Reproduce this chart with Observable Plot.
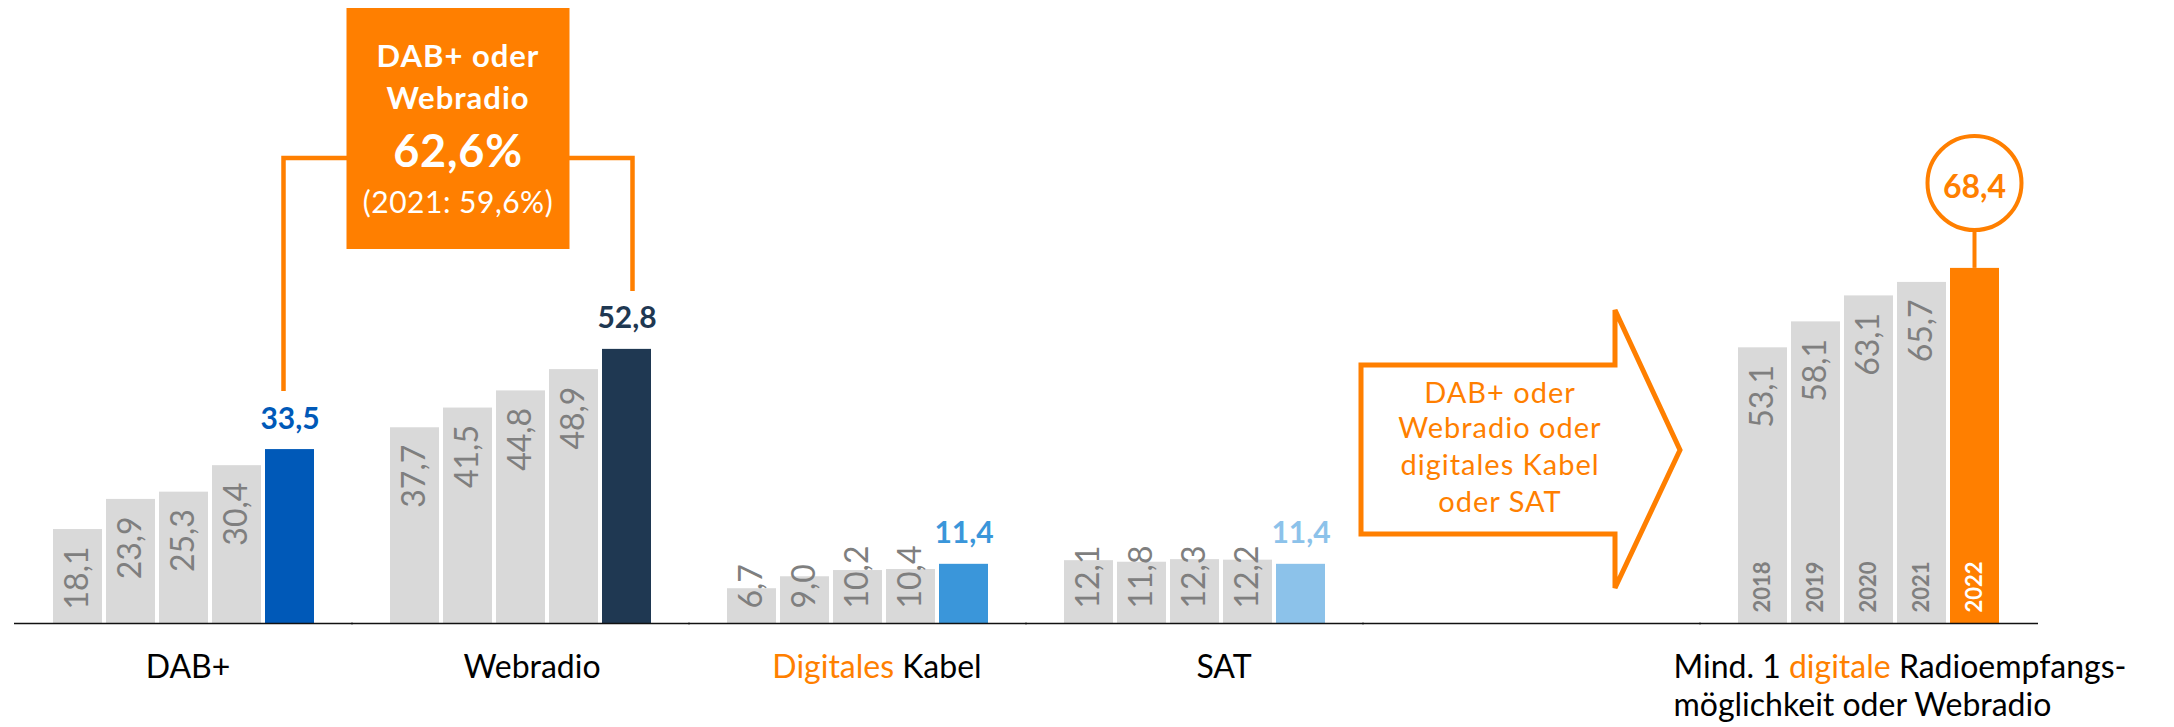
<!DOCTYPE html>
<html><head><meta charset="utf-8">
<script src="https://cdn.jsdelivr.net/npm/d3@7"></script>
<script src="https://cdn.jsdelivr.net/npm/@observablehq/plot@0.6"></script>
<style>html,body{margin:0;padding:0;background:#fff;} #chart{width:2174px;height:727px;}</style>
</head><body><div id="chart"></div>
<script>
// ---------- data ----------
const years = ["2018", "2019", "2020", "2021", "2022"];
const groupKeys = ["DAB+", "Webradio", "Digitales Kabel", "SAT", "arrow", "gesamt"];
const groupLabels = ["DAB+", "Webradio", "Digitales Kabel", "SAT", "", "Mind. 1 digitale Radioempfangs-\nmöglichkeit oder Webradio"];
const dabValues = [18.1, 23.9, 25.3, 30.4, 33.5];
const webradioValues = [37.7, 41.5, 44.8, 48.9, 52.8];
const kabelValues = [6.7, 9.0, 10.2, 10.4, 11.4];
const satValues = [12.1, 11.8, 12.3, 12.2, 11.4];
const totalValues = [53.1, 58.1, 63.1, 65.7, 68.4];
const highlightColors = ["#0059B8", "#1F3852", "#3A96DA", "#8CC2EA", null, "#FF7F00"];
const boxLines = ["DAB+ oder", "Webradio", "62,6%", "(2021: 59,6%)"];
const arrowLines = ["DAB+ oder", "Webradio oder", "digitales Kabel", "oder SAT"];

const grey = "#D9D9D9", greyText = "#7F7F7F", orange = "#FF7F00";
const seriesByGroup = [dabValues, webradioValues, kabelValues, satValues, null, totalValues];
const fmt = v => v.toFixed(1).replace(".", ",");

const rows = [];
groupKeys.forEach((g, gi) => {
  const vals = seriesByGroup[gi];
  if (!vals) return;
  years.forEach((yr, i) => rows.push({
    group: g, year: yr, value: vals[i], latest: i === years.length - 1,
    color: i === years.length - 1 ? highlightColors[gi] : grey
  }));
});
const baseRows = groupKeys.map(g => ({g, y: 0}));
const labelRows = groupKeys.map((k, i) => ({k, label: groupLabels[i]}));

const FONT = "Lato, 'Open Sans', sans-serif";
const labelShift = [4, 11, 19, 29]; // layout: small rightward drift of the category labels

const plot = Plot.plot({
  width: 2174, height: 727,
  marginLeft: 11, marginRight: 132, marginTop: 0, marginBottom: 104,
  style: {fontFamily: FONT, background: "white", overflow: "visible"},
  fx: {domain: groupKeys, paddingInner: 0.213, paddingOuter: 0.111, axis: null},
  x: {domain: years, paddingInner: 0.08, paddingOuter: 0, axis: null},
  y: {domain: [0, 120], axis: null},
  color: {type: "identity"},
  marks: [
    Plot.barY(rows, {fx: "group", x: "year", y: "value", fill: "color"}),
    Plot.ruleY(baseRows, {fx: "g", y: "y", stroke: "#111", strokeWidth: 1.6, insetLeft: -37, insetRight: -37}),
    // grey values, anchored under the bar top
    Plot.text(rows.filter(r => !r.latest && r.value >= 15), {
      fx: "group", x: "year", y: "value", text: r => fmt(r.value),
      rotate: -90, textAnchor: "end", dy: 17, fill: greyText, fontSize: 32
    }),
    // grey values, anchored at the bar bottom (short bars)
    Plot.text(rows.filter(r => !r.latest && r.value < 15), {
      fx: "group", x: "year", y: () => 0, text: r => fmt(r.value),
      rotate: -90, textAnchor: "start", dy: -15, fill: greyText, fontSize: 32
    }),
    // years inside the total bars
    Plot.text(rows.filter(r => r.group === "gesamt"), {
      fx: "group", x: "year", y: () => 0, text: "year",
      rotate: -90, textAnchor: "start", dy: -11, fontSize: 22, fontWeight: "bold",
      fill: r => r.latest ? "white" : greyText
    }),
    // highlighted latest values
    Plot.text(rows.filter(r => r.latest && r.group !== "gesamt"), {
      fx: "group", x: "year", y: "value", text: r => fmt(r.value),
      lineAnchor: "bottom", dy: -21, fill: "color", fontSize: 30, fontWeight: "bold"
    }),
    // group labels
    ...labelRows.slice(0, 4).map((row, i) => Plot.text([row], {
      fx: "k", text: "label", frameAnchor: "bottom", lineAnchor: "bottom",
      dx: labelShift[i], dy: 54, fontSize: 32, fill: "#000", ariaLabel: "group-label"
    })),
    Plot.text(labelRows.slice(5), {
      fx: "k", text: "label", frameAnchor: "bottom-left", textAnchor: "start", lineAnchor: "bottom",
      dx: -63, dy: 92, fontSize: 32, lineHeight: 38 / 32, fill: "#000", ariaLabel: "group-label"
    })
  ]
});
document.getElementById("chart").appendChild(plot);

const svg = d3.select(plot);
svg.selectAll('g[aria-label="group-label"] text').attr("letter-spacing", 2.2);

// ---------- colour the highlighted words ----------
function colorWord(node, word) {
  const txt = node.textContent;
  const i = txt.indexOf(word);
  if (i < 0) return;
  const sel = d3.select(node);
  sel.text(null);
  sel.append("tspan").text(txt.slice(0, i));
  sel.append("tspan").attr("fill", orange).text(word);
  sel.append("tspan").text(txt.slice(i + word.length));
}
svg.selectAll("text").each(function () {
  if (this.children.length === 0 && this.textContent === "Digitales Kabel") colorWord(this, "Digitales");
});
svg.selectAll("tspan").each(function () {
  if (this.textContent.startsWith("Mind. 1 digitale")) colorWord(this, "digitale");
});

// ---------- annotations positioned through the plot's scales ----------
const fxS = plot.scale("fx"), xS = plot.scale("x"), yS = plot.scale("y");
const bw = xS.bandwidth;
const left = (g, yr) => fxS.apply(g) + xS.apply(yr) - xS.range[0];
const center = (g, yr) => left(g, yr) + bw / 2;
const Y = v => yS.apply(v);
const base = Y(0);
const ann = svg.append("g").attr("font-family", FONT);

// bracket + box
const L = center("DAB+", "2022") - 6, R = center("Webradio", "2022") + 6;
const bracketY = 158;
ann.append("path")
  .attr("d", `M${L},${Y(dabValues[4]) - 58}V${bracketY}H${R}V${Y(webradioValues[4]) - 58}`)
  .attr("fill", "none").attr("stroke", orange).attr("stroke-width", 4.5);
const boxW = 223, boxCx = (L + R) / 2;
ann.append("rect").attr("x", boxCx - boxW / 2).attr("y", 8).attr("width", boxW).attr("height", 241).attr("fill", orange);
const boxSpec = [[67, 31, 700, 1], [109, 31, 700, 1], [167, 45, 700, 0.8], [213, 30, 400, 0.5]];
boxLines.forEach((t, i) => {
  ann.append("text").attr("x", boxCx).attr("y", boxSpec[i][0]).attr("text-anchor", "middle")
    .attr("font-size", boxSpec[i][1]).attr("font-weight", boxSpec[i][2])
    .attr("letter-spacing", boxSpec[i][3]).attr("fill", "white").text(t);
});

// arrow in the empty slot
const a0 = fxS.apply("arrow"), a1 = a0 + fxS.bandwidth;
const pts = [[a0 - 38, base - 258], [a1 - 49, base - 258], [a1 - 49, base - 313], [a1 + 16, base - 173],
             [a1 - 49, base - 35], [a1 - 49, base - 89], [a0 - 38, base - 89]];
ann.append("path").attr("d", "M" + pts.map(p => p.join(",")).join("L") + "Z")
  .attr("fill", "white").attr("stroke", orange).attr("stroke-width", 5).attr("stroke-linejoin", "miter");
const arrowBase = [403, 438, 475, 512];
arrowLines.forEach((t, i) => {
  ann.append("text").attr("x", a0 + 101).attr("y", arrowBase[i]).attr("text-anchor", "middle")
    .attr("font-size", 29).attr("letter-spacing", 1).attr("fill", orange).text(t);
});

// circle over the total 2022 bar
const cx = center("gesamt", "2022"), cy = 183, r = 47;
ann.append("line").attr("x1", cx).attr("x2", cx).attr("y1", cy + r).attr("y2", Y(totalValues[4]))
  .attr("stroke", orange).attr("stroke-width", 4);
ann.append("circle").attr("cx", cx).attr("cy", cy).attr("r", r)
  .attr("fill", "white").attr("stroke", orange).attr("stroke-width", 4);
ann.append("text").attr("x", cx).attr("y", cy + 15).attr("text-anchor", "middle")
  .attr("font-size", 32).attr("font-weight", 700).attr("fill", orange).text(fmt(totalValues[4]));
</script>
</body></html>
